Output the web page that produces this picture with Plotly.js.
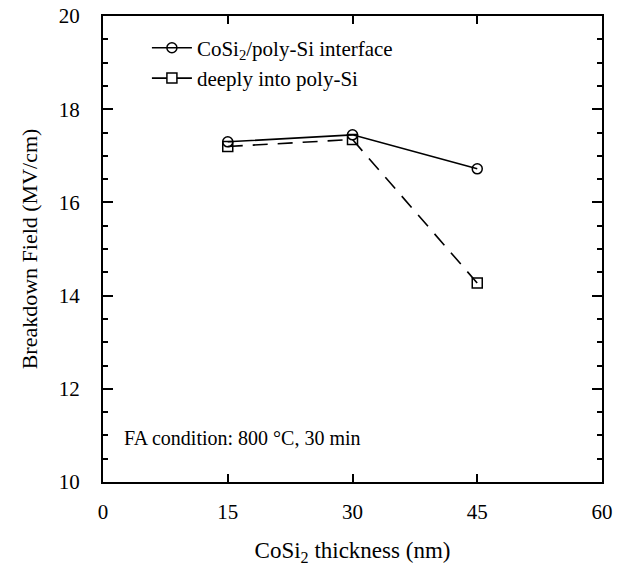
<!DOCTYPE html>
<html>
<head>
<meta charset="utf-8">
<script src="https://cdn.plot.ly/plotly-3.0.1.min.js"></script>
<style>html,body{margin:0;padding:0;background:#fff;}#chart{width:625px;height:569px;}</style>
</head>
<body>
<div id="chart"></div>
<script>
// Data
const thickness = [15, 30, 45];
const interfaceField = [17.3, 17.45, 16.72];
const deepField = [17.2, 17.35, 14.27];
const seriesNames = ["CoSi<sub>2</sub>/poly-Si interface", "deeply into poly-Si"];
const xTicks = [0, 15, 30, 45, 60];
const yTicks = [10, 12, 14, 16, 18, 20];
const noteText = "FA condition: 800 °C, 30 min";

const font = "Liberation Serif, Times New Roman, serif";

const traces = [
  {
    x: thickness, y: interfaceField, name: seriesNames[0],
    mode: "lines+markers", type: "scatter",
    line: {color: "#000", width: 1.6},
    marker: {symbol: "circle-open", size: 10, color: "#000", line: {width: 1.5, color: "#000"}}
  },
  {
    x: thickness, y: deepField, name: seriesNames[1],
    mode: "lines+markers", type: "scatter",
    line: {color: "#000", width: 1.6, dash: "15px,10px"},
    marker: {symbol: "square-open", size: 10, color: "#000", line: {width: 1.5, color: "#000"}}
  }
];

const layout = {
  width: 625, height: 569,
  margin: {l: 103, r: 23, t: 16, b: 87},
  paper_bgcolor: "#fff", plot_bgcolor: "#fff",
  font: {family: font, color: "#000", size: 18},
  showlegend: true,
  legend: {
    x: 0.088, y: 0.975, xanchor: "left", yanchor: "top",
    bgcolor: "rgba(0,0,0,0)", borderwidth: 0,
    font: {family: font, size: 21, color: "#000"},
    itemwidth: 40, tracegroupgap: 4
  },
  xaxis: {
    range: [0, 60], tickvals: xTicks, ticktext: xTicks.map(String),
    ticks: "inside", ticklen: 8, tickwidth: 2, tickcolor: "#000",
    showline: true, linewidth: 2, linecolor: "#000", mirror: "ticks",
    showgrid: false, zeroline: false,
    tickfont: {family: font, size: 21, color: "#000"},
    ticklabelstandoff: 10,
    title: {text: "CoSi<sub>2</sub> thickness (nm)", font: {family: font, size: 23, color: "#000"}, standoff: 19}
  },
  yaxis: {
    range: [10, 20], tickvals: yTicks, ticktext: yTicks.map(String),
    ticks: "inside", ticklen: 10, tickwidth: 2, tickcolor: "#000",
    minor: {dtick: 0.5, ticks: "inside", ticklen: 5, tickwidth: 2, tickcolor: "#000", showgrid: false},
    showline: true, linewidth: 2, linecolor: "#000", mirror: "ticks",
    showgrid: false, zeroline: false,
    tickfont: {family: font, size: 21, color: "#000"},
    ticklabelstandoff: 17,
    title: {text: "Breakdown Field (MV/cm)", font: {family: font, size: 22, color: "#000"}, standoff: 15}
  },
  annotations: [{
    text: noteText, xref: "paper", yref: "paper", x: 0.038, y: 0.095,
    xanchor: "left", yanchor: "middle", showarrow: false,
    font: {family: font, size: 20, color: "#000"}
  }]
};

Plotly.newPlot("chart", traces, layout, {displayModeBar: false, staticPlot: true});
</script>
</body>
</html>
